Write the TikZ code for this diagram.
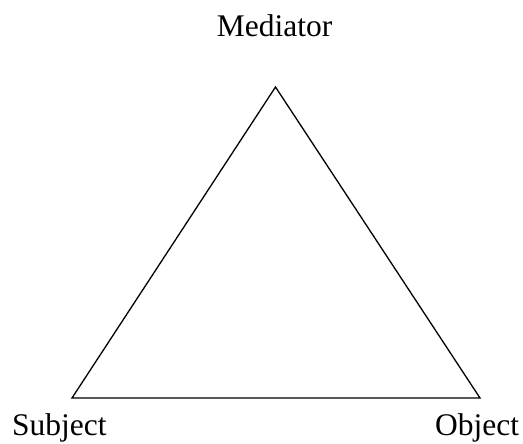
\documentclass[tikz,border=0pt]{standalone}
\usepackage{fontspec}
\setmainfont{Liberation Serif}
\begin{document}
\begin{tikzpicture}[x=1pt,y=1pt,
  lbl/.style={inner sep=0pt,font=\fontsize{31.5}{37}\selectfont},
  edge/.style={draw=black,line width=1.3pt,line join=miter}]
\useasboundingbox (0,0) rectangle (523,444);
\coordinate (m) at (275.5,357);
\coordinate (s) at (72,46);
\coordinate (o) at (480,46);
\draw[edge] (m) -- (s) -- (o) -- cycle;
\node[lbl,anchor=base] (ml) at (274.5,407) {Mediator};
\node[lbl,anchor=base west] (sl) at (12,8) {Subject};
\node[lbl,anchor=base west] (ol) at (435,8) {Object};
\end{tikzpicture}
\end{document}
